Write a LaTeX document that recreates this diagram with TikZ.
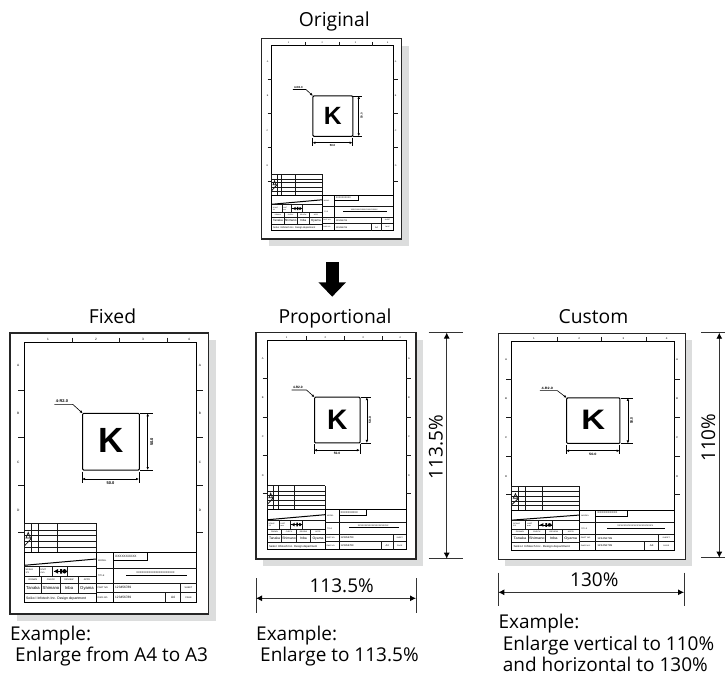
\documentclass[tikz,border=0pt]{standalone}
\usepackage{fontspec}
\setmainfont{Open Sans}
\newfontfamily\sheetfont{Liberation Sans}
\usetikzlibrary{arrows.meta}
\definecolor{paperShadow}{HTML}{DCDDDD}
\tikzset{
  caption/.style={anchor=base, inner sep=0, font=\fontsize{19.3}{20}\selectfont},
  example/.style={anchor=base west, inner sep=0, font=\fontsize{19}{20}\selectfont},
  percent/.style={anchor=base, inner sep=0, font=\fontsize{19}{22}\selectfont},
  tinytext/.style={inner sep=0, transform shape, font=\sheetfont\fontsize{3.2}{3.8}\selectfont},
  smalltext/.style={inner sep=0, transform shape, font=\sheetfont\fontsize{2.3}{2.7}\selectfont},
  dimtext/.style={inner sep=0, transform shape, font=\sheetfont\bfseries\fontsize{4}{4.6}\selectfont},
  nametext/.style={inner sep=0, transform shape, font=\sheetfont\fontsize{4.2}{5}\selectfont},
  companytext/.style={inner sep=0, transform shape, font=\sheetfont\fontsize{3.4}{4}\selectfont},
  frameline/.style={line width=1pt, draw=black},
  gridline/.style={line width=.8pt, draw=black!90},
  dimline/.style={line width=.6pt, draw=black},
  dimarrow/.style={line width=.6pt, draw=black, {Latex[length=3pt,width=2.6pt]}-{Latex[length=3pt,width=2.6pt]}},
  bigdim/.style={line width=.9pt, draw=black!80, {Latex[length=6pt,width=6pt,black]}-{Latex[length=6pt,width=6pt,black]}},
  bigext/.style={line width=.9pt, draw=black!80}
}
% #1 name, #2 left, #3 top, #4 width, #5 height
\newcommand{\drawingsheet}[5]{
  \fill[paperShadow] (#2+7,#3+7) rectangle (#2+#4+7,#3+#5+7);
  \draw[fill=white, draw=black!85, line width=1.1pt] (#2,#3) rectangle (#2+#4,#3+#5);
  \begin{scope}[shift={(#2,#3)}, xscale=#4/198.7, yscale=#5/281]
    \draw[frameline] (14.3,9.7) rectangle (186.7,269.7);
    \foreach \tx in {62.3,109.7,157.3} \draw[gridline] (\tx,4.5) -- (\tx,9.7);
    \foreach \ty in {57,104.7,152.7,199.7} {
      \draw[gridline] (8.3,\ty) -- (14.3,\ty);
      \draw[gridline] (186.7,\ty) -- (193,\ty);
    }
    \foreach \lab/\tx in {1/38,2/86,3/133,4/179}
      \node[tinytext] (#1-top\lab) at (\tx,6) {\lab};
    \foreach \lab/\ty in {A/32.3,B/80.7,C/129.3,D/177.7} {
      \node[tinytext] (#1-left\lab) at (8.3,\ty) {\lab};
      \node[tinytext] (#1-right\lab) at (190,\ty) {\lab};
    }
    % part outline and its dimensions
    \draw[frameline, rounded corners=1pt] (72.7,80.3) rectangle (129.3,137);
    \node[inner sep=0, transform shape, font=\sheetfont\bfseries\fontsize{35}{35}\selectfont] (#1-k) at (101,107.8) {K};
    \node[dimtext, anchor=base] (#1-radius) at (52,69.8) {4-R2.0};
    \draw[dimline, -{Latex[length=3pt,width=2.6pt]}] (44.3,71.3) -- (62.7,71.3) -- (72.7,80.3);
    \draw[dimline] (130,80.3) -- (142.7,80.3) (130,137) -- (142.7,137);
    \draw[dimarrow] (137.7,80.3) -- (137.7,137);
    \node[dimtext, rotate=90] (#1-height) at (141.7,108.7) {50.0};
    \draw[dimline] (72,138.7) -- (72,150.3) (129,138.7) -- (129,150.3);
    \draw[dimarrow] (72,146) -- (129,146);
    \node[dimtext] (#1-width) at (100.5,150.5) {50.0};
    % revision table
    \foreach \ty in {190.3,197,202.3,208.7,214}
      \draw[gridline] (14.3,\ty) -- (86,\ty);
    \foreach \tx in {14.3,21.7,28.3,47.3,86}
      \draw[gridline] (\tx,190.3) -- (\tx,219.7);
    \draw[gridline] (14.3,213) -- (21.7,205) (16,205) -- (18.2,199.5) -- (20.5,205) -- cycle;
    % title block
    \draw[frameline] (14.3,219.7) -- (186.7,219.7);
    \draw[frameline] (86,219.7) -- (86,269.7) (103.3,219.7) -- (103.3,269.7);
    \draw[frameline] (14.3,232.3) -- (86,226);
    \draw[gridline] (14.3,233) -- (86,233) (14.3,243.7) -- (86,243.7) (14.3,250.3) -- (86,250.3)
      (14.3,260.3) -- (86,260.3);
    \foreach \tx in {29,42.7,57.7} \draw[gridline] (\tx,233) -- (\tx,243.7);
    \foreach \tx in {31.7,50,68} \draw[gridline] (\tx,243.7) -- (\tx,260.3);
    \draw[gridline] (86,235.3) -- (186.7,235.3) (86,250.3) -- (186.7,250.3) (86,259.3) -- (186.7,259.3);
    \draw[gridline] (170.3,250.3) -- (170.3,269.7) (155.7,259.3) -- (155.7,269.7);
    \draw[frameline] (103.3,219.7) rectangle (137,227.3);
    \draw[frameline] (116,242.3) -- (177.3,242.3);
    % third angle projection mark
    \fill (44,238.3) -- (48,236) -- (48,240.6) -- cycle (50,236) -- (52,236) -- (52,240.6) -- (50,240.6) -- cycle;
    \fill (54.5,238.3) circle (2.2);
    \draw[dimline] (43.5,238.3) -- (57,238.3);
    \node[smalltext, anchor=west, align=left] (#1-scale) at (15.5,238.3) {SCALE\\1/1};
    \node[smalltext, anchor=west, align=left] (#1-unit) at (30.5,238.3) {UNIT\\mm};
    \foreach \lab/\tx in {DRAWN/23,CHECK/41,REVIEW/59,APPR/77}
      \node[smalltext] (#1-\lab) at (\tx,247) {\lab};
    \foreach \lab/\tx in {Tanaka/23,Shimano/41,Inba/59,Oyama/77}
      \node[nametext] (#1-\lab) at (\tx,255.3) {\lab};
    \node[companytext, anchor=west] (#1-company) at (16,265.3) {Seiko I Infotech Inc. Design department};
    \node[smalltext, anchor=west] (#1-model) at (88,227.5) {MODEL};
    \node[smalltext, anchor=west] (#1-title) at (88,243) {TITLE};
    \node[smalltext, anchor=west] (#1-partno) at (87.5,254.8) {PART NO.};
    \node[smalltext, anchor=west] (#1-drawno) at (87.5,264.5) {DWG NO.};
    \node[tinytext, anchor=west] (#1-xxx) at (105,223.5) {XXXXXXXXXX};
    \node[smalltext, font=\sheetfont\fontsize{2.6}{3}\selectfont] (#1-titlexxx) at (145.5,239.7) {XXXXXXXXXXXXXXXXXXXXXX};
    \node[tinytext, anchor=west] (#1-num) at (105,254.8) {123456789};
    \node[tinytext, anchor=west] (#1-numb) at (105,264.5) {123456789};
    \node[tinytext] (#1-size) at (163,264.5) {A4};
    \node[smalltext] (#1-sheet) at (178.5,254.8) {SHEET};
    \node[smalltext] (#1-page) at (178.5,264.5) {PAGE};
  \end{scope}
}
\begin{document}
\begin{tikzpicture}[x=1pt, y=-1pt]
  \useasboundingbox (0,0) rectangle (725,675);

  \node[caption] (original) at (334.3,26.5) {Original};
  \drawingsheet{orig}{261.7}{38.6}{140}{200.4}

  \coordinate (arrowTop) at (332.2,262.3);
  \coordinate (arrowTip) at (332.2,296.7);
  \draw[line width=13pt, -{Triangle[length=14.4pt,width=26.7pt]}] (arrowTop) -- (arrowTip);

  \node[caption] (fixed) at (112.5,323.3) {Fixed};
  \drawingsheet{fix}{10}{333}{198.7}{281}
  \node[example] (fixedA) at (10,640) {Example:};
  \node[example] (fixedB) at (15,661.7) {Enlarge from A4 to A3};

  \node[caption] (prop) at (335,323.3) {Proportional};
  \drawingsheet{prop}{256}{332.5}{160}{226.5}
  \coordinate (propTop) at (446.7,332.5);
  \coordinate (propBottom) at (446.7,558.7);
  \coordinate (propLeft) at (256,598.3);
  \coordinate (propRight) at (416,598.3);
  \draw[bigext] (428.5,332.5) -- (463,332.5) (428.5,558.7) -- (463,558.7);
  \draw[bigext] (256,578) -- (256,612.7) (416,578) -- (416,612.7);
  \draw[bigdim] (propTop) -- (propBottom);
  \draw[bigdim] (propLeft) -- (propRight);
  \node[percent, rotate=90] (propV) at (442.5,447) {113.5\%};
  \node[percent] (propH) at (341.7,592.7) {113.5\%};
  \node[example] (propA) at (256,640) {Example:};
  \node[example] (propB) at (260,661.7) {Enlarge to 113.5\%};

  \node[caption] (custom) at (593.5,323.3) {Custom};
  \drawingsheet{cust}{498.3}{333.3}{187}{226}
  \coordinate (custTop) at (719.3,332.7);
  \coordinate (custBottom) at (719.3,557.7);
  \coordinate (custLeft) at (498.3,592.3);
  \coordinate (custRight) at (684,592.3);
  \draw[bigext] (701.3,332.7) -- (725,332.7) (701.3,557.7) -- (725,557.7);
  \draw[bigext] (498.3,572.7) -- (498.3,606) (684,572.7) -- (684,606);
  \draw[bigdim] (custTop) -- (custBottom);
  \draw[bigdim] (custLeft) -- (custRight);
  \node[percent, rotate=90] (custV) at (715,437.7) {110\%};
  \node[percent] (custH) at (594.3,586.7) {130\%};
  \node[example] (custA) at (498.3,628.5) {Example:};
  \node[example] (custB) at (502.7,650) {Enlarge vertical to 110\%};
  \node[example] (custC) at (502.7,671) {and horizontal to 130\%};
\end{tikzpicture}
\end{document}
